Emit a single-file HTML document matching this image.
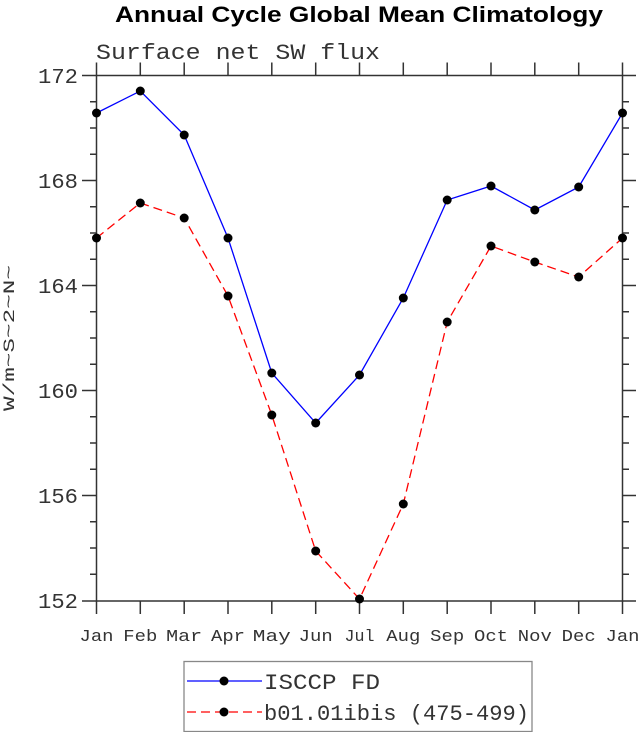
<!DOCTYPE html>
<html><head><meta charset="utf-8"><style>body{margin:0;background:#fff}svg{display:block}</style></head>
<body>
<svg width="638" height="732" xmlns="http://www.w3.org/2000/svg" font-family="Liberation Mono, monospace">
<text x="359" y="22" text-anchor="middle" font-family="Liberation Sans, sans-serif" font-weight="bold" font-size="22" textLength="488" lengthAdjust="spacingAndGlyphs">Annual Cycle Global Mean Climatology</text>
<text x="96" y="59" font-size="22" fill="#333" textLength="284" lengthAdjust="spacingAndGlyphs">Surface net SW flux</text>
<g stroke="#333" stroke-width="1.5" fill="none">
<rect x="96.5" y="75.5" width="526" height="525.5"/>
<path d="
M82 75.5H96.5 M82 180.5H96.5 M82 285.5H96.5 M82 390.5H96.5 M82 495.5H96.5 M82 601H96.5
M622.5 75.5H636 M622.5 180.5H636 M622.5 285.5H636 M622.5 390.5H636 M622.5 495.5H636 M622.5 601H636
M90 101.75H96.5 M90 128H96.5 M90 154.25H96.5 M90 206.75H96.5 M90 233H96.5 M90 259.25H96.5 M90 311.75H96.5 M90 338H96.5 M90 364.25H96.5 M90 416.75H96.5 M90 443H96.5 M90 469.25H96.5 M90 521.75H96.5 M90 548H96.5 M90 574.25H96.5
M622.5 101.75H629 M622.5 128H629 M622.5 154.25H629 M622.5 206.75H629 M622.5 233H629 M622.5 259.25H629 M622.5 311.75H629 M622.5 338H629 M622.5 364.25H629 M622.5 416.75H629 M622.5 443H629 M622.5 469.25H629 M622.5 521.75H629 M622.5 548H629 M622.5 574.25H629
"/>
<path d="M96.5 601v13 M140.3 601v13 M184.2 601v13 M228 601v13 M271.8 601v13 M315.7 601v13 M359.5 601v13 M403.3 601v13 M447.2 601v13 M491 601v13 M534.8 601v13 M578.7 601v13 M622.5 601v13
M96.5 75.5v-13 M140.3 75.5v-13 M184.2 75.5v-13 M228 75.5v-13 M271.8 75.5v-13 M315.7 75.5v-13 M359.5 75.5v-13 M403.3 75.5v-13 M447.2 75.5v-13 M491 75.5v-13 M534.8 75.5v-13 M578.7 75.5v-13 M622.5 75.5v-13"/>
</g>
<g font-size="21" fill="#333" text-anchor="end">
<text x="78" y="83" textLength="40" lengthAdjust="spacingAndGlyphs">172</text><text x="78" y="188" textLength="40" lengthAdjust="spacingAndGlyphs">168</text><text x="78" y="293" textLength="40" lengthAdjust="spacingAndGlyphs">164</text><text x="78" y="398" textLength="40" lengthAdjust="spacingAndGlyphs">160</text><text x="78" y="503" textLength="40" lengthAdjust="spacingAndGlyphs">156</text><text x="78" y="608" textLength="40" lengthAdjust="spacingAndGlyphs">152</text>
</g>
<g font-size="17" fill="#333" text-anchor="middle">
<text x="96.5" y="641" textLength="34" lengthAdjust="spacingAndGlyphs">Jan</text><text x="140.3" y="641" textLength="34" lengthAdjust="spacingAndGlyphs">Feb</text><text x="184.2" y="641" textLength="36" lengthAdjust="spacingAndGlyphs">Mar</text><text x="228" y="641" textLength="34" lengthAdjust="spacingAndGlyphs">Apr</text><text x="271.8" y="641" textLength="38" lengthAdjust="spacingAndGlyphs">May</text><text x="315.7" y="641" textLength="34" lengthAdjust="spacingAndGlyphs">Jun</text><text x="359.5" y="641" textLength="30" lengthAdjust="spacingAndGlyphs">Jul</text><text x="403.3" y="641" textLength="34" lengthAdjust="spacingAndGlyphs">Aug</text><text x="447.2" y="641" textLength="34" lengthAdjust="spacingAndGlyphs">Sep</text><text x="491" y="641" textLength="34" lengthAdjust="spacingAndGlyphs">Oct</text><text x="534.8" y="641" textLength="34" lengthAdjust="spacingAndGlyphs">Nov</text><text x="578.7" y="641" textLength="34" lengthAdjust="spacingAndGlyphs">Dec</text><text x="622.5" y="641" textLength="34" lengthAdjust="spacingAndGlyphs">Jan</text>
</g>
<text transform="translate(14,338) rotate(-90)" font-size="16" fill="#333" text-anchor="middle" textLength="146" lengthAdjust="spacingAndGlyphs">W/m~S~2~N~</text>
<polyline fill="none" stroke="#00f" stroke-width="1.3" points="96.5,113 140.3,91 184.2,135 228,238 271.8,373 315.7,423 359.5,375 403.3,298 447.2,200 491,186 534.8,210 578.7,187 622.5,113"/>
<polyline fill="none" stroke="#f00" stroke-width="1.3" stroke-dasharray="9,5" points="96.5,238 140.3,203 184.2,218 228,296 271.8,415 315.7,551 359.5,599 403.3,504 447.2,322 491,246 534.8,262 578.7,277 622.5,238"/>
<g fill="#000">
<circle cx="96.5" cy="113" r="4.5"/><circle cx="140.3" cy="91" r="4.5"/><circle cx="184.2" cy="135" r="4.5"/><circle cx="228" cy="238" r="4.5"/><circle cx="271.8" cy="373" r="4.5"/><circle cx="315.7" cy="423" r="4.5"/><circle cx="359.5" cy="375" r="4.5"/><circle cx="403.3" cy="298" r="4.5"/><circle cx="447.2" cy="200" r="4.5"/><circle cx="491" cy="186" r="4.5"/><circle cx="534.8" cy="210" r="4.5"/><circle cx="578.7" cy="187" r="4.5"/><circle cx="622.5" cy="113" r="4.5"/>
<circle cx="96.5" cy="238" r="4.5"/><circle cx="140.3" cy="203" r="4.5"/><circle cx="184.2" cy="218" r="4.5"/><circle cx="228" cy="296" r="4.5"/><circle cx="271.8" cy="415" r="4.5"/><circle cx="315.7" cy="551" r="4.5"/><circle cx="359.5" cy="599" r="4.5"/><circle cx="403.3" cy="504" r="4.5"/><circle cx="447.2" cy="322" r="4.5"/><circle cx="491" cy="246" r="4.5"/><circle cx="534.8" cy="262" r="4.5"/><circle cx="578.7" cy="277" r="4.5"/><circle cx="622.5" cy="238" r="4.5"/>
</g>
<rect x="184" y="661.5" width="348" height="70" fill="none" stroke="#888" stroke-width="1.3"/>
<line x1="187" y1="681" x2="262" y2="681" stroke="#00f" stroke-width="1.3"/>
<line x1="187" y1="712" x2="262" y2="712" stroke="#f00" stroke-width="1.3" stroke-dasharray="9,5"/>
<circle cx="224" cy="681" r="4.5"/><circle cx="224" cy="712" r="4.5"/>
<g font-size="22" fill="#333">
<text x="264" y="689" textLength="116" lengthAdjust="spacingAndGlyphs">ISCCP FD</text>
<text x="264" y="720" textLength="265" lengthAdjust="spacingAndGlyphs">b01.01ibis (475-499)</text>
</g>
</svg>
</body></html>
